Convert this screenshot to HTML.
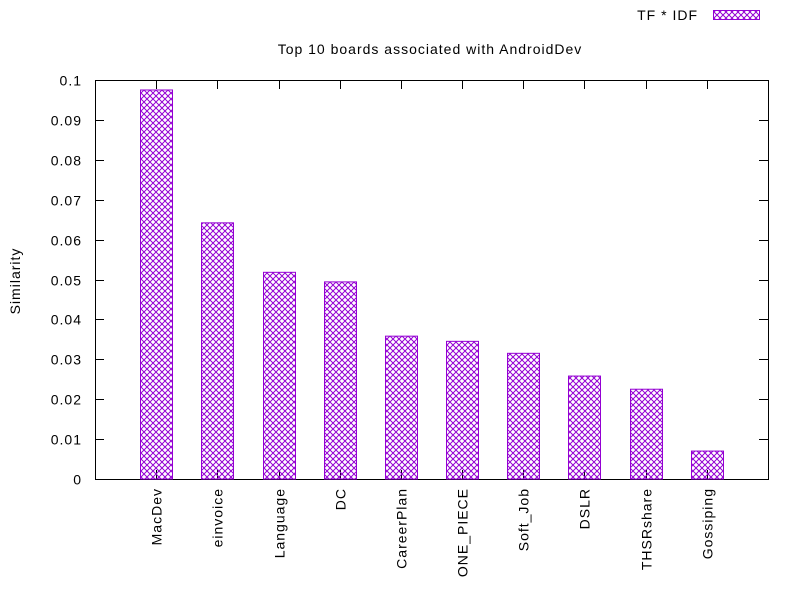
<!DOCTYPE html>
<html><head><meta charset="utf-8"><style>body{margin:0;background:#fff}svg{display:block;font-family:"Liberation Sans",sans-serif;font-size:14px;letter-spacing:1px}</style></head>
<body>
<svg id="chart" width="800" height="600" xmlns="http://www.w3.org/2000/svg">
<defs><pattern id="hatch" width="6" height="6" patternUnits="userSpaceOnUse"><path d="M0,0L6,6M6,0L0,6" stroke="#9400d3" stroke-width="1" fill="none"/></pattern></defs>
<text x="430" y="54" text-anchor="middle">Top 10 boards associated with AndroidDev</text>
<text x="0" y="0" transform="translate(20,281) rotate(-90)" text-anchor="middle">Similarity</text>
<text x="698" y="20" text-anchor="end">TF * IDF</text>
<rect x="713.5" y="10.5" width="46" height="9" fill="url(#hatch)" stroke="#9400d3"/>
</svg>
<script>
const categories=["MacDev","einvoice","Language","DC","CareerPlan","ONE_PIECE","Soft_Job","DSLR","THSRshare","Gossiping"];
const values=[0.0975,0.0642,0.0518,0.0494,0.0358,0.0345,0.0315,0.0258,0.0225,0.007];
const yTicks=[0,0.01,0.02,0.03,0.04,0.05,0.06,0.07,0.08,0.09,0.1];
const yTickLabels=["0","0.01","0.02","0.03","0.04","0.05","0.06","0.07","0.08","0.09","0.1"];
const L=95,R=768,T=80,B=479;
const xs=i=>L+(i+1)*(R-L)/(categories.length+1);
const ys=v=>B-(v/0.1)*(B-T);
const svg=document.getElementById('chart');const NS="http://www.w3.org/2000/svg";
function mk(t,a,p){const e=document.createElementNS(NS,t);for(const k in a)e.setAttribute(k,a[k]);(p||svg).appendChild(e);return e;}
const frame=mk('rect',{x:L+.5,y:T+.5,width:R-L,height:B-T,fill:'none',stroke:'#000'});


yTicks.forEach((v,i)=>{const y=Math.round(ys(v))+.5;
mk('path',{d:`M${L} ${y}h9M${R} ${y}h-9`,stroke:'#000'});
const t=mk('text',{x:L-13,y:y+5,'text-anchor':'end'});t.textContent=yTickLabels[i];

});
categories.forEach((c,i)=>{const x=Math.round(xs(i))+.5;
mk('path',{d:`M${x} ${B}v-9M${x} ${T}v9`,stroke:'#000'});
const bw=32,y=ys(values[i]);
const b=mk('rect',{x:x-bw/2,y:y,width:bw,height:B-y,fill:'url(#hatch)',stroke:'#9400d3'});


const t=mk('text',{x:0,y:0,'text-anchor':'end',transform:`translate(${x+5},${B+9}) rotate(-90)`});t.textContent=c;

});
</script>
</body></html>
